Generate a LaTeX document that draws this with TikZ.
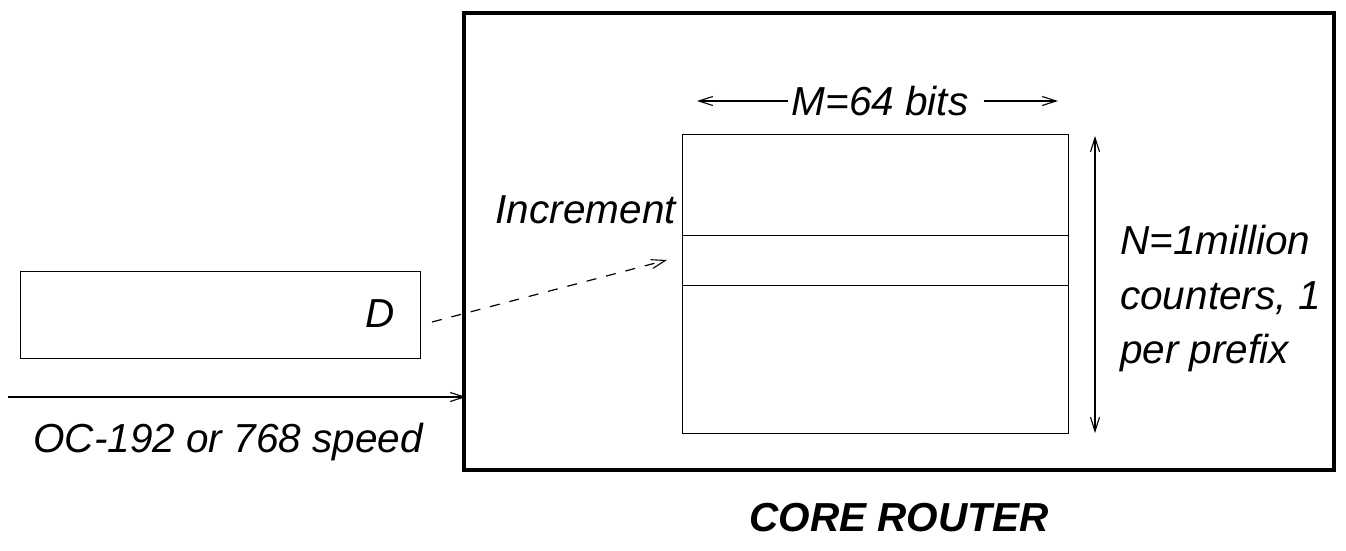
\documentclass[tikz,border=0pt]{standalone}
\usepackage{fontspec}
\setmainfont{Liberation Sans}
\usetikzlibrary{arrows.meta}
\begin{document}
\begin{tikzpicture}[x=1pt,y=-1pt,
  thin line/.style={line width=1.2pt},
  barb/.style={-{Straight Barb[length=14pt,width=9pt,line width=1.1pt]}},
  lbl/.style={font=\fontsize{40.5}{54.5}\selectfont\itshape, inner sep=0pt},
  cell/.style={draw, line width=1.2pt, minimum width=386pt, inner sep=0pt, anchor=north west}]
\useasboundingbox (0,0) rectangle (1346,550);
% router enclosure
\draw[line width=4.5pt] (464,13) rectangle (1334,470);
\node[font=\fontsize{40.5}{48}\selectfont\bfseries\itshape] (title) at (899,518) {CORE ROUTER};
% counter array: three stacked cells
\node[cell, minimum height=101pt] (top) at (682,134) {};
\node[cell, minimum height=50pt] (mid) at (682,235) {};
\node[cell, minimum height=148pt] (bot) at (682,285) {};
% width dimension
\node[lbl] (mlab) at (880,101) {M=64 bits};
\coordinate (mleft) at (697,101);
\coordinate (mright) at (1058,101);
\draw[thin line, barb] (mlab.west) ++(-3,0) -- (mleft);
\draw[thin line, barb] (mlab.east) ++(15,0) -- (mright);
% height dimension
\coordinate (ntop) at (1095,136);
\coordinate (nbot) at (1095,433);
\draw[thin line, barb] (1095,284) -- (ntop);
\draw[thin line, barb] (1095,284) -- (nbot);
\node[lbl, align=left, anchor=west] (nlab) at (1120,299) {N=1million\\counters, 1\\per prefix};
\node[lbl, anchor=east] (inc) at (676,210) {Increment};
% packet header and link
\node[draw, line width=1.2pt, minimum width=400pt, minimum height=87pt, inner sep=0pt, anchor=north west] (pkt) at (20,271) {};
\node[lbl] (d) at (380,314) {D};
\coordinate (dstart) at (432,322);
\coordinate (dend) at (667,260);
\draw[thin line, barb, dash pattern=on 10pt off 10pt] (dstart) -- (dend);
\coordinate (linkstart) at (8,397);
\coordinate (linkend) at (466,397);
\draw[thin line, barb] (linkstart) -- (linkend);
\node[lbl] (speed) at (228,442) {OC-192 or 768 speed};
\end{tikzpicture}
\end{document}
